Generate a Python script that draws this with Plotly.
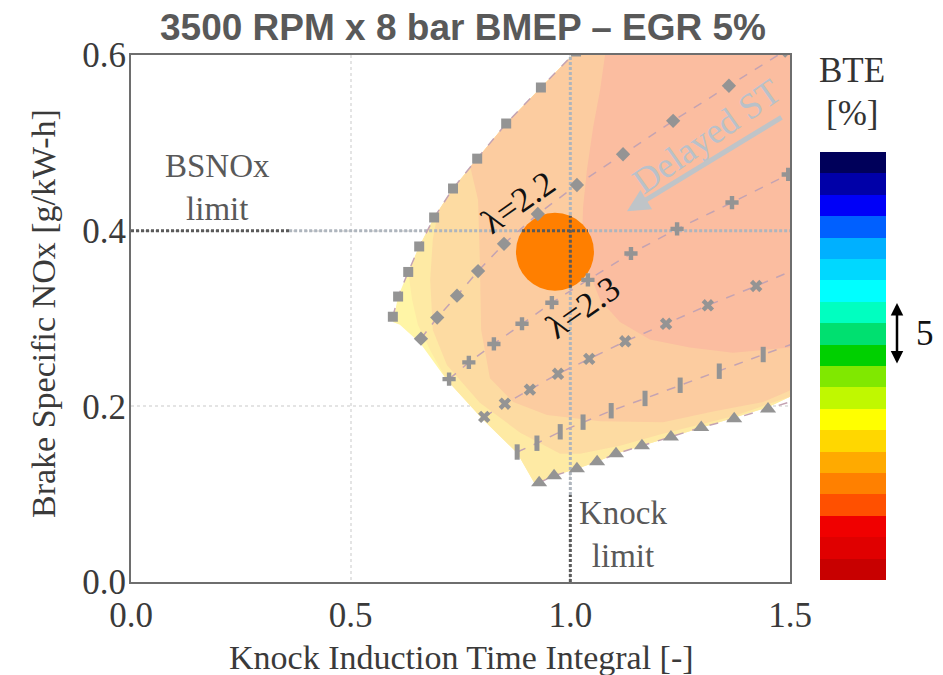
import plotly.graph_objects as go

# ---------------- data (Knock Induction Time Integral [-], BSNOx [g/kW-h]) ----------------
sq_x = [0.596, 0.608, 0.631, 0.656, 0.690, 0.733, 0.788, 0.854, 0.933, 1.013]
sq_y = [0.302, 0.325, 0.353, 0.382, 0.415, 0.448, 0.482, 0.522, 0.563, 0.604]
dm_x = [0.660, 0.697, 0.742, 0.790, 0.849, 0.926, 1.015, 1.120, 1.234, 1.361, 1.489]
dm_y = [0.277, 0.301, 0.326, 0.354, 0.385, 0.419, 0.452, 0.487, 0.525, 0.565, 0.605]
pl_x = [0.724, 0.769, 0.826, 0.890, 0.958, 1.040, 1.138, 1.243, 1.368, 1.496, 1.623]
pl_y = [0.231, 0.250, 0.271, 0.294, 0.318, 0.344, 0.374, 0.402, 0.432, 0.464, 0.496]
xm_x = [0.804, 0.851, 0.908, 0.972, 1.043, 1.125, 1.218, 1.313, 1.423, 1.532]
xm_y = [0.188, 0.203, 0.219, 0.237, 0.254, 0.274, 0.294, 0.315, 0.337, 0.360]
br_x = [0.879, 0.924, 0.977, 1.029, 1.093, 1.170, 1.250, 1.339, 1.439, 1.539]
br_y = [0.148, 0.158, 0.171, 0.182, 0.195, 0.209, 0.224, 0.240, 0.259, 0.277]
tr_x = [0.929, 0.963, 1.015, 1.061, 1.104, 1.163, 1.229, 1.298, 1.373, 1.450, 1.527]
tr_y = [0.113, 0.121, 0.129, 0.137, 0.146, 0.155, 0.165, 0.176, 0.186, 0.197, 0.209]

# BTE contour bands (outer region first, then each higher band)
band1_x = [0.596, 0.608, 0.631, 0.656, 0.690, 0.733, 0.788, 0.854, 0.933, 1.005, 1.5, 1.5, 1.450, 1.373,
           1.298, 1.229, 1.163, 1.104, 1.061, 1.015, 0.963, 0.920, 0.879, 0.801, 0.719, 0.658, 0.612]
band1_y = [0.296, 0.325, 0.353, 0.382, 0.415, 0.448, 0.482, 0.522, 0.563, 0.600, 0.600, 0.211, 0.199, 0.187,
           0.175, 0.165, 0.155, 0.146, 0.137, 0.129, 0.121, 0.111, 0.147, 0.185, 0.230, 0.272, 0.293]
band2_x = [0.631, 0.656, 0.690, 0.733, 0.788, 0.854, 0.933, 1.005, 1.5, 1.5, 1.450, 1.373, 1.298, 1.229,
           1.163, 1.104, 1.061, 1.015, 0.963, 0.920, 0.879, 0.801, 0.719, 0.683, 0.653, 0.640]
band2_y = [0.353, 0.382, 0.415, 0.448, 0.482, 0.522, 0.563, 0.600, 0.600, 0.211, 0.199, 0.187, 0.175, 0.165,
           0.155, 0.146, 0.137, 0.129, 0.121, 0.111, 0.147, 0.185, 0.230, 0.262, 0.293, 0.321]
band3_x = [0.699, 0.733, 0.788, 0.854, 0.933, 1.005, 1.5, 1.5, 1.373, 1.295, 1.204, 1.113, 1.022, 0.977,
           0.886, 0.794, 0.719, 0.687, 0.681, 0.687]
band3_y = [0.422, 0.448, 0.482, 0.522, 0.563, 0.600, 0.600, 0.211, 0.189, 0.179, 0.168, 0.155, 0.146, 0.146,
           0.170, 0.204, 0.247, 0.287, 0.344, 0.390]
band4_x = [0.772, 0.788, 0.854, 0.933, 1.005, 1.5, 1.5, 1.439, 1.325, 1.211, 1.068, 0.947, 0.870, 0.817,
           0.797, 0.794, 0.790]
band4_y = [0.473, 0.482, 0.522, 0.563, 0.600, 0.600, 0.218, 0.205, 0.194, 0.182, 0.183, 0.190, 0.205, 0.232,
           0.287, 0.367, 0.435]
band5_x = [1.079, 1.5, 1.5, 1.370, 1.272, 1.181, 1.113, 1.068, 1.040, 1.027, 1.029, 1.038, 1.052, 1.068]
band5_y = [0.600, 0.600, 0.267, 0.261, 0.267, 0.276, 0.296, 0.321, 0.356, 0.393, 0.427, 0.470, 0.518, 0.561]
band_colors = ["#FFF5A6", "#FEEAA4", "#FDDBA2", "#FCCCA0", "#FBBDA0"]

# optimum point
opt_x = [0.965]
opt_y = [0.376]

# limits
nox_limit = 0.4
knock_limit = 1.0

# BTE colour scale (bottom -> top)
bte_levels = [0, 1, 2, 3, 4, 5, 6, 7, 8, 9, 10, 11, 12, 13, 14, 15, 16, 17, 18, 19]
bte_colors = ["#C80000", "#E00000", "#F00000", "#FF5000", "#FF8000", "#FFAA00", "#FFD700", "#FFFF00",
              "#C0F800", "#80E800", "#00D000", "#00E070", "#00FFC0", "#00FFFF", "#00D8FF", "#00B0FF",
              "#0060FF", "#0000F8", "#0000A8", "#00005A"]

SERIF = "Liberation Serif, Times New Roman, serif"
W, H = 943, 675
L, R, T, B = 131, 790, 55, 582  # plot area in px

fig = go.Figure()

bands = [(band1_x, band1_y), (band2_x, band2_y), (band3_x, band3_y), (band4_x, band4_y), (band5_x, band5_y)]
for (bx, by), c in zip(bands, band_colors):
    fig.add_trace(go.Scatter(x=bx, y=by, mode="lines", fill="toself", fillcolor=c,
                             line=dict(width=0, color=c), hoverinfo="skip"))

LIGHT = "#AEB5BD"
DARK = "#5A5A5A"
DOT = "3px,2px"
# light limit lines
fig.add_trace(go.Scatter(x=[0.36, 1.5], y=[nox_limit, nox_limit], mode="lines",
                         line=dict(color=LIGHT, width=3, dash=DOT)))
fig.add_trace(go.Scatter(x=[knock_limit, knock_limit], y=[0.099, 0.6], mode="lines",
                         line=dict(color=LIGHT, width=3, dash=DOT)))

# optimum circle
fig.add_trace(go.Scatter(x=opt_x, y=opt_y, mode="markers",
                         marker=dict(size=78, color="#FF7F00", line=dict(width=0))))

# dark limit segments
fig.add_trace(go.Scatter(x=[0.0, 0.36], y=[nox_limit, nox_limit], mode="lines",
                         line=dict(color=DARK, width=3, dash=DOT)))
fig.add_trace(go.Scatter(x=[knock_limit, knock_limit], y=[0.0, 0.099], mode="lines",
                         line=dict(color=DARK, width=3, dash=DOT)))
fig.add_trace(go.Scatter(x=[0.890, 1.040], y=[nox_limit, nox_limit], mode="lines",
                         line=dict(color=DARK, width=3, dash=DOT)))
fig.add_trace(go.Scatter(x=[knock_limit, knock_limit], y=[0.335, 0.417], mode="lines",
                         line=dict(color=DARK, width=3, dash=DOT)))

LINEC = "#C4A3B2"
MK = "#949494"
series = [
    (sq_x, sq_y, dict(symbol="square", size=10, color=MK)),
    (dm_x, dm_y, dict(symbol="diamond", size=11, color=MK)),
    (pl_x, pl_y, dict(symbol="cross", size=11, color=MK)),
    (xm_x, xm_y, dict(symbol="x", size=11, color=MK)),
    (br_x, br_y, dict(symbol="line-ns", size=11, color=MK, line=dict(width=5, color=MK))),
    (tr_x, tr_y, dict(symbol="triangle-up", size=14, color=MK)),
]
for sx, sy, mk in series:
    fig.add_trace(go.Scatter(x=sx, y=sy, mode="lines+markers",
                             line=dict(color=LINEC, width=1.5, dash="dash"), marker=mk))

# colour bar as heatmap
fig.add_trace(go.Heatmap(z=[[v] for v in bte_levels], x=[0], y=bte_levels,
                         colorscale=[[i / 19, c] for i, c in enumerate(bte_colors)],
                         zmin=0, zmax=19, showscale=False, xaxis="x2", yaxis="y2", hoverinfo="skip"))

fig.update_layout(
    width=W, height=H, margin=dict(l=0, r=0, t=0, b=0, pad=0, autoexpand=False),
    paper_bgcolor="white", plot_bgcolor="white", showlegend=False,
    xaxis=dict(domain=[L / W, R / W], range=[0, 1.5], tickvals=[0, 0.5, 1.0, 1.5],
               ticktext=["0.0", "0.5", "1.0", "1.5"], showgrid=True, gridcolor="#E4E4E4",
               griddash="dot", gridwidth=1.5, zeroline=False, showline=True, linecolor="#6E6E6E",
               linewidth=2, mirror=True, ticks="", ticklabelstandoff=1, automargin=False,
               tickfont=dict(family=SERIF, size=35, color="#3A3A3A")),
    yaxis=dict(domain=[1 - B / H, 1 - T / H], range=[0, 0.6], tickvals=[0, 0.2, 0.4, 0.6],
               ticktext=["0.0", "0.2", "0.4", "0.6"], showgrid=True, gridcolor="#E4E4E4",
               griddash="dot", gridwidth=1.5, zeroline=False, showline=True, linecolor="#6E6E6E",
               linewidth=2, mirror=True, ticks="", ticklabelstandoff=-4, automargin=False,
               tickfont=dict(family=SERIF, size=35, color="#3A3A3A")),
    xaxis2=dict(domain=[820 / W, 886 / W], range=[-0.5, 0.5], visible=False, anchor="y2"),
    yaxis2=dict(domain=[1 - 580 / H, 1 - 152 / H], range=[-0.5, 19.5], visible=False, anchor="x2"),
)

C = dict(xanchor="center", yanchor="middle", showarrow=False)
ann = []
ann.append(dict(text="<b>3500 RPM x 8 bar BMEP – EGR 5%</b>", xref="paper", yref="paper",
                x=463 / W, y=1 - 27 / H,
                font=dict(family="Liberation Sans, Arial, sans-serif", size=37, color="#595959"), **C))
ann.append(dict(text="Knock Induction Time Integral [-]", xref="paper", yref="paper",
                x=461 / W, y=1 - 657 / H,
                font=dict(family=SERIF, size=34, color="#3A3A3A"), **C))
ann.append(dict(text="Brake Specific NOx [g/kW-h]", xref="paper", yref="paper",
                x=43 / W, y=1 - 314 / H, textangle=-90,
                font=dict(family=SERIF, size=34, color="#3A3A3A"), **C))
ann.append(dict(text="BSNOx<br>limit", x=0.196, y=0.449, xref="x", yref="y",
                font=dict(family=SERIF, size=33, color="#595959"), **C))
ann.append(dict(text="Knock<br>limit", x=1.12, y=0.054, xref="x", yref="y",
                font=dict(family=SERIF, size=33, color="#595959"), **C))
ann.append(dict(text="λ=2.2", x=0.881, y=0.432, xref="x", yref="y", textangle=-35,
                font=dict(family=SERIF, size=35, color="#111111"), **C))
ann.append(dict(text="λ=2.3", x=1.029, y=0.312, xref="x", yref="y", textangle=-35,
                font=dict(family=SERIF, size=35, color="#111111"), **C))
ann.append(dict(text="Delayed ST", x=1.311, y=0.508, xref="x", yref="y", textangle=-35,
                font=dict(family=SERIF, size=36, color="#B9C1C9"), **C))
ann.append(dict(text="", x=1.129, y=0.422, ax=1.484, ay=0.530, xref="x", yref="y", axref="x", ayref="y",
                showarrow=True, arrowhead=2, arrowsize=0.9, arrowwidth=5, arrowcolor="#BFC4C8"))
ann.append(dict(text="BTE", xref="paper", yref="paper", x=852 / W, y=1 - 70 / H,
                font=dict(family=SERIF, size=35, color="#333333"), **C))
ann.append(dict(text="[%]", xref="paper", yref="paper", x=852 / W, y=1 - 113 / H,
                font=dict(family=SERIF, size=35, color="#333333"), **C))
ann.append(dict(text="", xref="paper", yref="paper", x=897 / W, y=1 - 303 / H, ax=0, ay=62,
                showarrow=True, arrowhead=2, arrowside="end+start", arrowsize=1, arrowwidth=2.5,
                arrowcolor="#000000"))
ann.append(dict(text="5", xref="paper", yref="paper", x=925 / W, y=1 - 333 / H,
                font=dict(family=SERIF, size=35, color="#111111"), **C))
fig.update_layout(annotations=ann)

fig.write_html("out.html")
